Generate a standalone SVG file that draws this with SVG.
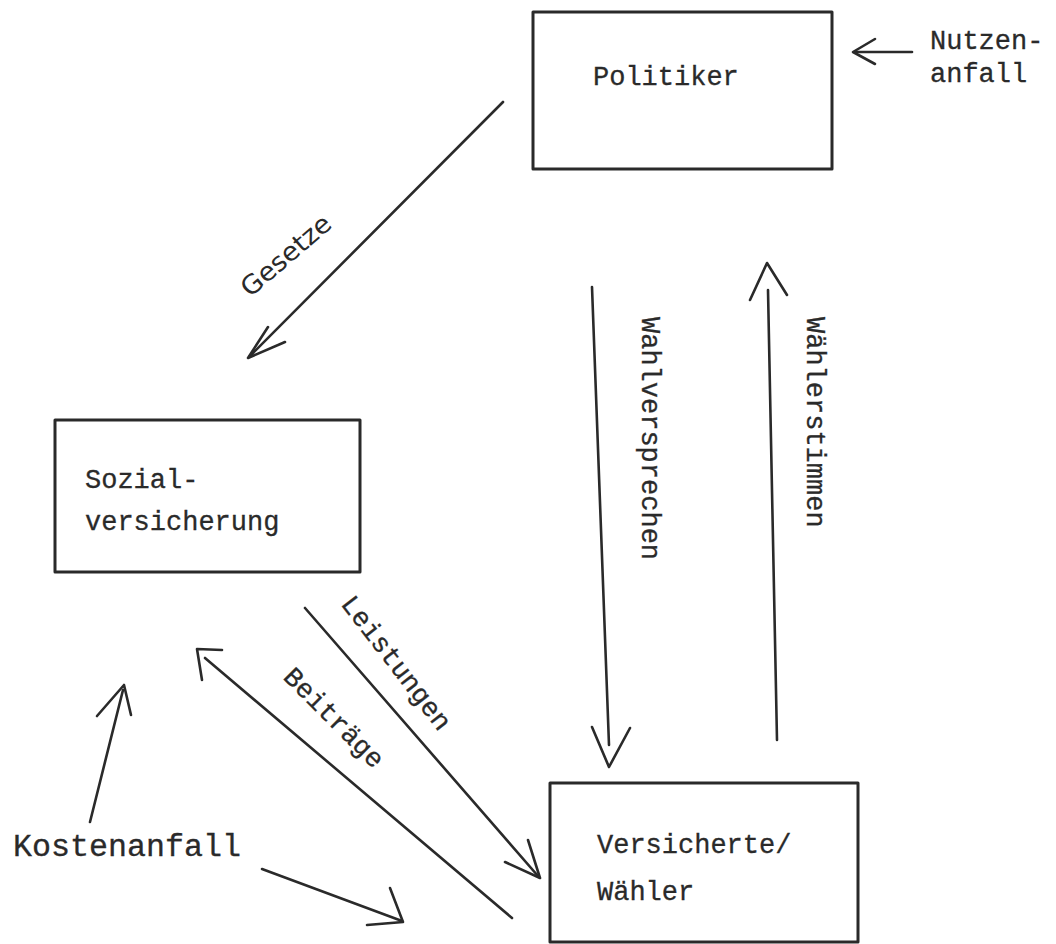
<svg xmlns="http://www.w3.org/2000/svg" width="1056" height="944" viewBox="0 0 1056 944">
<style>
.box{fill:none;stroke:#2a2a2a;stroke-width:3;stroke-linejoin:round}
.conn{fill:none;stroke:#2a2a2a;stroke-width:2.6;stroke-linecap:round;stroke-linejoin:round}
.t{font-family:"Liberation Mono","DejaVu Sans Mono",monospace;font-size:27px;fill:#2a2a2a;stroke:#2a2a2a;stroke-width:0.3}
.h{font-family:"DejaVu Sans","Liberation Sans",sans-serif;font-size:26px;fill:#2a2a2a}
</style>
<rect width="1056" height="944" fill="#ffffff"/>
<g id="connectors">
  <g id="gesetze">
    <path class="conn" d="M503,102 L250,356"/>
    <path class="conn" d="M268,327 L248,358 L285,342"/>
    <text class="h" transform="translate(250,298) rotate(-40.6)" textLength="110" lengthAdjust="spacingAndGlyphs">Gesetze</text>
  </g>
  <g id="wahlversprechen">
    <path class="conn" d="M592,287 L609,745"/>
    <path class="conn" d="M592,727 L609,767 L630,728"/>
    <text class="t" transform="translate(642,317) rotate(90)">Wahlversprechen</text>
  </g>
  <g id="waehlerstimmen">
    <path class="conn" d="M777,740 L768,290"/>
    <path class="conn" d="M750,300 L767,263 L787,295"/>
    <text class="t" transform="translate(807,317) rotate(90)">Wählerstimmen</text>
  </g>
  <g id="nutzen">
    <path class="conn" d="M912,52 L855,52"/>
    <path class="conn" d="M875,39 L853,52 L875,64"/>
  </g>
  <g id="leistungen">
    <path class="conn" d="M305,608 L538,876"/>
    <path class="conn" d="M528,840 L540,878 L505,862"/>
    <text class="t" transform="translate(340,604) rotate(52.4)">Leistungen</text>
  </g>
  <g id="beitraege">
    <path class="conn" d="M512,918 L205,658"/>
    <path class="conn" d="M222,650 L197,649 L202,680"/>
    <text class="t" transform="translate(282,678) rotate(45)">Beiträge</text>
  </g>
  <g id="kosten-up">
    <path class="conn" d="M90,822 L123,690"/>
    <path class="conn" d="M97,716 L124,685 L131,715"/>
  </g>
  <g id="kosten-right">
    <path class="conn" d="M262,869 L402,921"/>
    <path class="conn" d="M390,888 L403,922 L367,925"/>
  </g>
</g>
<g id="politiker">
  <rect class="box" x="533" y="12" width="299" height="157"/>
  <text class="t" x="593" y="85">Politiker</text>
</g>
<g id="nutzenanfall">
  <text class="t" x="930" y="49">Nutzen-</text>
  <text class="t" x="930" y="82">anfall</text>
</g>
<g id="sozialversicherung">
  <rect class="box" x="55" y="420" width="305" height="152"/>
  <text class="t" x="85" y="488">Sozial-</text>
  <text class="t" x="85" y="530">versicherung</text>
</g>
<g id="versicherte">
  <rect class="box" x="550" y="783" width="308" height="159"/>
  <text class="t" x="597" y="853">Versicherte/</text>
  <text class="t" x="597" y="900">Wähler</text>
</g>
<g id="kostenanfall">
  <text class="t" x="13" y="856" style="font-size:31px" textLength="228" lengthAdjust="spacingAndGlyphs">Kostenanfall</text>
</g>
</svg>
